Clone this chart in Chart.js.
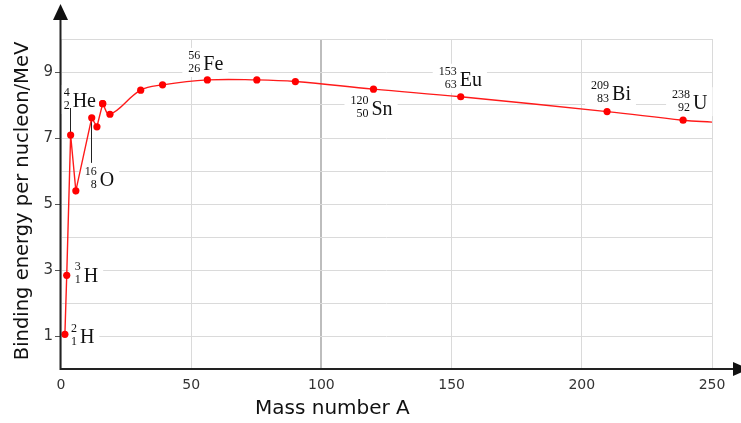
<!DOCTYPE html>
<html>
<head>
<meta charset="utf-8">
<script src="https://cdn.jsdelivr.net/npm/chart.js@4/dist/chart.umd.min.js"></script>
<style>
	body { margin: 0; background: #fff; }
	canvas { display: block; }
</style>
</head>
<body>
<canvas id="bindingcurve" width="741" height="423"></canvas>
<script>
// values (mass number, MeV per nucleon)
var massNumber = [1.5, 2.2, 3.7, 5.7, 11.8, 13.8, 16, 18.8, 30.6, 39, 56.2, 75.2, 90, 120, 153.5, 209.7, 238.9, 250];
var bindingEnergy = [1.05, 2.84, 7.09, 5.40, 7.61, 7.34, 8.04, 7.72, 8.45, 8.61, 8.76, 8.76, 8.71, 8.48, 8.25, 7.80, 7.54, 7.48];
var splitIndex = 6; // straight segments up to here, smooth curve after

var xTicks = [0, 50, 100, 150, 200, 250];
var yTicks = [1, 3, 5, 7, 9];

// nuclide labels
var nuclideSymbol = ['H', 'H', 'He', 'O', 'Fe', 'Sn', 'Eu', 'Bi', 'U'];
var nuclideMass = ['2', '3', '4', '16', '56', '120', '153', '209', '238'];
var nuclideCharge = ['1', '1', '2', '8', '26', '50', '63', '83', '92'];
var nuclidePoint = [0, 1, 2, 4, 10, 13, 14, 15, 16];

function toPoints(from, to) {
	var pts = [];
	for (var i = from; i <= to; i++) {
		pts.push({ x: massNumber[i], y: bindingEnergy[i] });
	}
	return pts;
}

var lastIndex = massNumber.length - 1;

// label placement relative to its point (pixels)
var labelDx = [15, 17, 2, 8, -4, -2, -1, 5, 10];
var labelDy = [2, 0, -34, 62, -16, 20, -17, -18, -17];
var leader = [0, 0, -27, 45, 0, 0, 0, 0, 0];

var nuclidePlugin = {
	id: 'nuclides',
	beforeDatasetsDraw: function (chart) {
		var ctx = chart.ctx;
		var xs = chart.scales.x;
		var ys = chart.scales.y;
		ctx.save();
		for (var i = 0; i < nuclideSymbol.length; i++) {
			var p = nuclidePoint[i];
			var px = xs.getPixelForValue(massNumber[p]);
			var py = ys.getPixelForValue(bindingEnergy[p]);
			var sx = px + labelDx[i];
			var sy = py + labelDy[i];

			ctx.font = '20px "Liberation Serif"';
			var symW = ctx.measureText(nuclideSymbol[i]).width;
			ctx.font = '12px "Liberation Serif"';
			var numW = Math.max(ctx.measureText(nuclideMass[i]).width, ctx.measureText(nuclideCharge[i]).width);

			// white box behind the label
			ctx.fillStyle = '#fff';
			ctx.fillRect(sx - 3 - numW - 6, sy - 16, numW + symW + 14, 29);

			// leader line
			if (leader[i] !== 0) {
				var dir = leader[i] > 0 ? 1 : -1;
				ctx.strokeStyle = '#222';
				ctx.lineWidth = 1;
				ctx.beginPath();
				ctx.moveTo(Math.round(px) - 0.5, py + dir * 3);
				ctx.lineTo(Math.round(px) - 0.5, py + leader[i]);
				ctx.stroke();
			}

			ctx.fillStyle = '#111';
			ctx.textBaseline = 'middle';
			ctx.textAlign = 'left';
			ctx.font = '20px "Liberation Serif"';
			ctx.fillText(nuclideSymbol[i], sx, sy + 1);
			ctx.textAlign = 'right';
			ctx.font = '12px "Liberation Serif"';
			ctx.fillText(nuclideMass[i], sx - 3, sy - 8);
			ctx.fillText(nuclideCharge[i], sx - 3, sy + 5);
		}
		ctx.restore();
	},
	afterDraw: function (chart) {
		var ctx = chart.ctx;
		var a = chart.chartArea;
		ctx.save();
		// axes with arrows
		ctx.strokeStyle = '#222';
		ctx.fillStyle = '#111';
		ctx.lineWidth = 2;
		ctx.beginPath();
		ctx.moveTo(a.left - 0.5, a.bottom + 1);
		ctx.lineTo(a.left - 0.5, 18);
		ctx.moveTo(a.left - 1, a.bottom);
		ctx.lineTo(735, a.bottom);
		ctx.stroke();
		ctx.beginPath();
		ctx.moveTo(a.left - 0.5, 4);
		ctx.lineTo(a.left - 8, 20);
		ctx.lineTo(a.left + 7, 20);
		ctx.closePath();
		ctx.fill();
		ctx.beginPath();
		ctx.moveTo(749, a.bottom);
		ctx.lineTo(733, a.bottom - 7);
		ctx.lineTo(733, a.bottom + 7);
		ctx.closePath();
		ctx.fill();

		// axis titles
		ctx.fillStyle = '#111';
		ctx.font = '20px "DejaVu Sans"';
		ctx.textBaseline = 'middle';
		ctx.textAlign = 'left';
		ctx.fillText('Mass number A', 255, 409);
		ctx.translate(23, 201);
		ctx.rotate(-Math.PI / 2);
		ctx.textAlign = 'center';
		ctx.font = '19.5px "DejaVu Sans"';
		ctx.fillText('Binding energy per nucleon/MeV', 0, 0);
		ctx.restore();
	}
};

var ctx = document.getElementById('bindingcurve');

var data = {
	datasets: [{
			label: 'light',
			data: toPoints(0, splitIndex),
			borderColor: '#ff1a1a',
			backgroundColor: '#ff0000',
			borderWidth: 1.4,
			showLine: true,
			tension: 0,
			pointRadius: 3.6,
			pointBorderWidth: 0
		},
		{
			label: 'heavy',
			data: toPoints(splitIndex, lastIndex),
			borderColor: '#ff1a1a',
			backgroundColor: '#ff0000',
			borderWidth: 1.4,
			showLine: true,
			tension: 0.4,
			pointRadius: function (c) {
				return c.dataIndex === lastIndex - splitIndex ? 0 : 3.6;
			},
			pointBorderWidth: 0
		}
	]
};

var options = {
	responsive: false,
	devicePixelRatio: 1,
	animation: false,
	layout: { padding: { left: 0, right: 29, top: 39, bottom: 0 } },
	plugins: {
		legend: { display: false },
		tooltip: { enabled: false }
	},
	scales: {
		x: {
			type: 'linear',
			min: 0,
			max: 250,
			afterFit: function (s) { s.height = 54; },
			afterBuildTicks: function (s) {
				s.ticks = xTicks.map(function (v) { return { value: v }; });
			},
			border: { display: false },
			grid: {
				drawTicks: false,
				color: function (c) { return c.tick && c.tick.value === 100 ? '#bdbdbd' : '#dadada'; },
				lineWidth: function (c) { return c.tick && c.tick.value === 100 ? 2 : 1; }
			},
			ticks: {
				padding: 8,
				color: '#333',
				font: { family: 'DejaVu Sans', size: 14 }
			}
		},
		y: {
			type: 'linear',
			min: 0,
			max: 10,
			afterFit: function (s) { s.width = 61; },
			border: { display: false },
			grid: {
				color: '#dadada',
				tickLength: 6,
				tickColor: function (c) {
					return c.tick && yTicks.indexOf(c.tick.value) >= 0 ? '#555' : 'rgba(0,0,0,0)';
				}
			},
			ticks: {
				stepSize: 1,
				autoSkip: false,
				padding: 2,
				color: '#333',
				font: { family: 'DejaVu Sans', size: 15 },
				callback: function (v) { return yTicks.indexOf(v) >= 0 ? v : ''; }
			}
		}
	}
};

var chart = new Chart(ctx, {
	type: 'scatter',
	data: data,
	options: options,
	plugins: [nuclidePlugin]
});
</script>
</body>
</html>
